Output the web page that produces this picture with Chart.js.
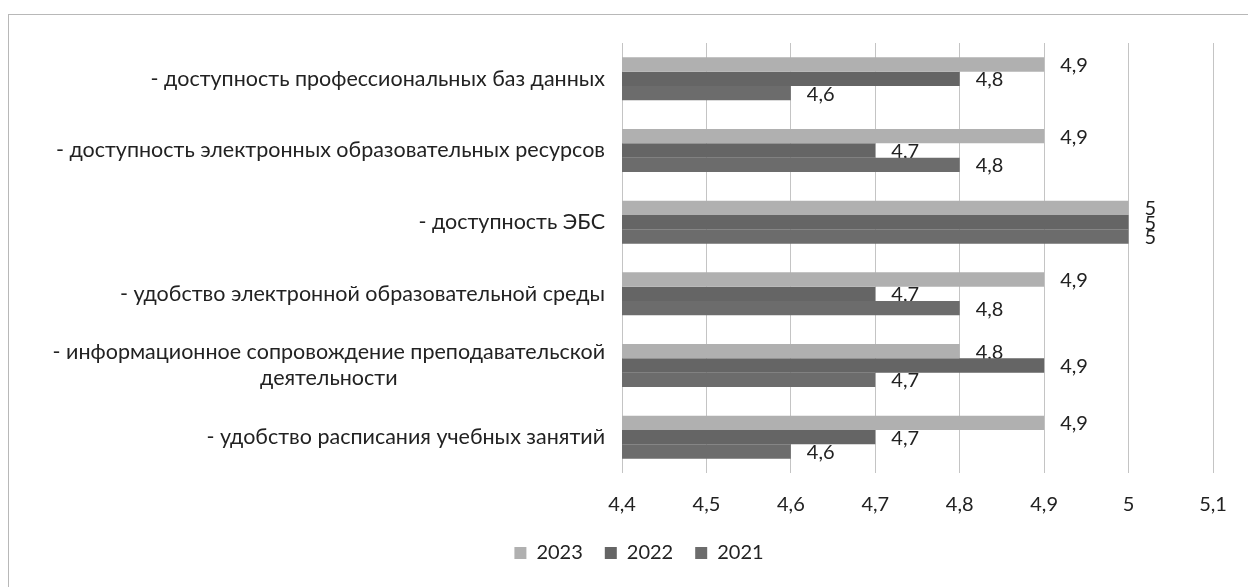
<!DOCTYPE html>
<html>
<head>
<meta charset="utf-8">
<script src="https://cdn.jsdelivr.net/npm/chart.js@4/dist/chart.umd.min.js"></script>
<style>
  body { margin: 0; background: #fff; overflow: hidden; }
  #frame { position: absolute; left: 8px; top: 14px; width: 1300px; height: 700px; border: 1px solid #b8b8b8; }
  #myChart { position: absolute; left: 0; top: 0; }
</style>
</head>
<body>
<div id="frame"></div>
<canvas id="myChart" width="1248" height="587"></canvas>
<script>
// категории (подписи оси Y)
var categories = [
    '- доступность профессиональных баз данных',
    '- доступность электронных образовательных ресурсов',
    '- доступность ЭБС',
    '- удобство электронной образовательной среды',
    ['- информационное сопровождение преподавательской', 'деятельности'],
    '- удобство расписания учебных занятий'
];
var seriesNames = ['2023', '2022', '2021'];
var values2023 = [4.9, 4.9, 5, 4.9, 4.8, 4.9];
var values2022 = [4.8, 4.7, 5, 4.7, 4.9, 4.7];
var values2021 = [4.6, 4.8, 5, 4.8, 4.7, 4.6];
var xTicks = [4.4, 4.5, 4.6, 4.7, 4.8, 4.9, 5, 5.1];

var FONT = 'Lato';

function fmt(v) {
    return (Math.round(v * 10) / 10).toString().replace('.', ',');
}

// подписи категорий слева
var yLabelPlugin = {
    id: 'yLabels',
    afterDraw: function (chart) {
        var ctx = chart.ctx;
        var y = chart.scales.y;
        var right = chart.chartArea.left - 17;
        ctx.save();
        ctx.font = '21.5px ' + FONT;
        ctx.fillStyle = '#222';
        ctx.textBaseline = 'middle';
        categories.forEach(function (lab, i) {
            var lines = Array.isArray(lab) ? lab : [lab];
            var cy = y.getPixelForValue(i);
            var lh = 26;
            var w = Math.max.apply(null, lines.map(function (l) { return ctx.measureText(l).width; }));
            lines.forEach(function (l, j) {
                var ly = cy + (j - (lines.length - 1) / 2) * lh;
                if (lines.length > 1) {
                    ctx.textAlign = 'center';
                    ctx.fillText(l, right - w / 2, ly);
                } else {
                    ctx.textAlign = 'right';
                    ctx.fillText(l, right, ly);
                }
            });
        });
        ctx.restore();
    }
};

// значения у концов столбцов
var valueLabelPlugin = {
    id: 'valueLabels',
    beforeDatasetsDraw: function (chart) {
        var ctx = chart.ctx;
        ctx.save();
        ctx.font = '20px ' + FONT;
        ctx.fillStyle = '#222';
        ctx.textAlign = 'left';
        ctx.textBaseline = 'middle';
        chart.data.datasets.forEach(function (ds, di) {
            var meta = chart.getDatasetMeta(di);
            meta.data.forEach(function (bar, i) {
                ctx.fillText(fmt(ds.data[i]), bar.x + 16, bar.y + 1);
            });
        });
        ctx.restore();
    }
};

var ctx = document.getElementById('myChart').getContext('2d');

var myChart = new Chart(ctx, {
    type: 'bar',
    data: {
        labels: categories,
        datasets: [
            { label: seriesNames[0], data: values2023, backgroundColor: '#b0b0b0' },
            { label: seriesNames[1], data: values2022, backgroundColor: '#656565' },
            { label: seriesNames[2], data: values2021, backgroundColor: '#6c6c6c' }
        ]
    },
    options: {
        indexAxis: 'y',
        responsive: false,
        animation: false,
        devicePixelRatio: 1,
        categoryPercentage: 0.6,
        barPercentage: 1,
        layout: { padding: { left: 65, right: 35, top: 43, bottom: 14 } },
        scales: {
            x: {
                min: 4.4,
                max: 5.1,
                afterBuildTicks: function (scale) {
                    scale.ticks = xTicks.map(function (v) { return { value: v }; });
                },
                afterFit: function (scale) { scale.height = 48; },
                ticks: {
                    padding: 20,
                    color: '#222',
                    font: { family: FONT, size: 20 },
                    callback: function (v) { return fmt(v); }
                },
                grid: { color: '#c4c4c4', drawTicks: false },
                border: { display: false }
            },
            y: {
                afterFit: function (scale) { scale.width = 557; },
                ticks: { display: false },
                grid: { display: false },
                border: { display: false }
            }
        },
        plugins: {
            legend: {
                position: 'bottom',
                labels: {
                    boxWidth: 12,
                    boxHeight: 12,
                    padding: 22,
                    color: '#222',
                    font: { family: FONT, size: 20 }
                }
            },
            tooltip: { enabled: false }
        }
    },
    plugins: [yLabelPlugin, valueLabelPlugin]
});
</script>
</body>
</html>
